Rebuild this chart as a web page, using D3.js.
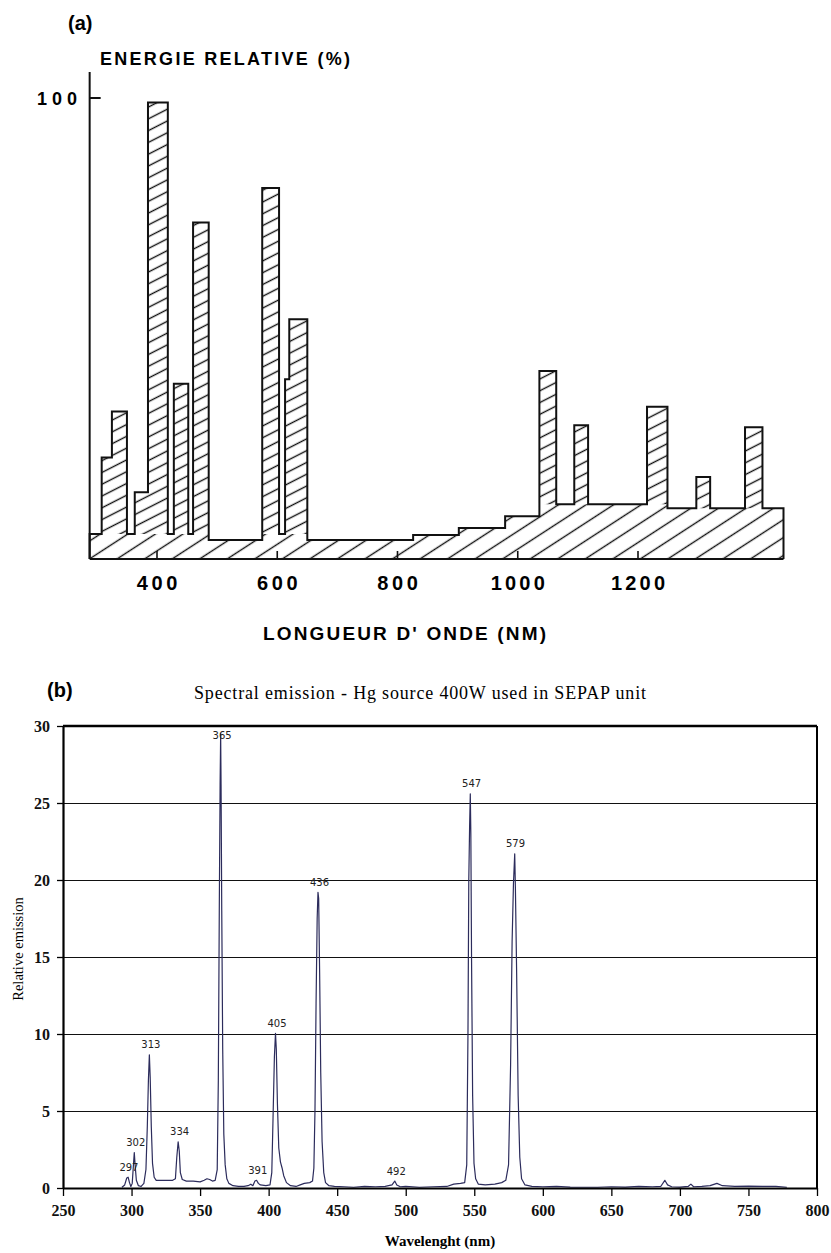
<!DOCTYPE html>
<html>
<head>
<meta charset="utf-8">
<script src="https://cdn.jsdelivr.net/npm/d3@7"></script>
<style>
  body { margin: 0; background: #fff; }
  svg { display: block; }
</style>
</head>
<body>
<script>
// ---------------- Panel (a) data : relative energy (%) vs wavelength (nm) ----------------
const contStart = [288, 486, 575, 650, 826, 902, 979, 1036, 1249];
const contEnd   = [486, 575, 650, 826, 902, 979, 1036, 1249, 1442];
const contLevel = [5.4, 4.1, 5.4, 4.1, 5.2, 6.7, 9.3, 11.9, 11.0];

const lineStart = [308, 325, 363, 385, 428, 460, 575, 613, 620, 1036, 1094, 1215, 1297, 1378];
const lineEnd   = [325, 350, 385, 418, 452, 486, 603, 620, 650, 1064, 1117, 1249, 1320, 1407];
const lineLevel = [22, 32, 14.5, 99, 38, 73, 80.5, 39, 52, 40.8, 29, 33, 17.8, 28.6];

const aTicks = [400, 600, 800, 1000, 1200];
const aYTicks = [100];

// ---------------- Panel (b) data : Hg source 400W spectral emission ----------------
const specNm = [293,295,296.5,297.5,298.5,299.5,300.5,301.3,302,302.6,303.5,305,307,309,310.5,311.5,312.3,313,313.6,314.4,315.3,316.5,318,322,326,330,332,333,334,334.8,335.6,337,340,345,350,353,355,357,359,361,362.5,363.3,364,364.6,365,365.3,365.8,366.5,367.3,368.3,369.5,371,374,378,382,385,387,388.5,390,391.2,392.5,394,398,401,402.3,403.2,404.2,405,405.6,406.4,407.4,408.6,409.8,411,413,416,420,423,426,430,432,433,433.8,434.6,435.4,436,436.5,437.2,438,439,440.2,441.5,444,448,455,462,470,478,485,490,492,493.5,496,500,510,520,530,535,540,543,544.5,545.4,546,546.6,547.1,547.5,548,548.8,549.8,551,553,558,565,570,573,575,576.5,577.6,578.6,579.5,580,580.9,582,583.2,584.5,587,592,600,610,620,630,640,650,660,670,680,686,689,691,694,700,706,708,710,716,722,727,731,740,750,760,770,778];
const specVal = [0.05,0.2,0.65,0.7,0.35,0.1,0.3,1.4,2.3,1.5,0.5,0.15,0.1,0.3,1.2,4.0,7.0,8.65,7.2,4.0,1.6,0.7,0.5,0.5,0.5,0.5,0.6,2.0,3.0,2.4,1.0,0.55,0.45,0.45,0.4,0.5,0.6,0.55,0.45,0.5,1.2,7.0,18,26.2,29.5,26.2,18,9.0,3.5,1.5,0.6,0.3,0.15,0.1,0.1,0.15,0.25,0.15,0.45,0.5,0.3,0.2,0.15,0.2,1.0,4.5,8.5,10.05,9.0,5.5,2.6,1.7,1.3,0.8,0.35,0.15,0.1,0.2,0.3,0.35,0.45,1.3,5,12,17.5,19.2,18.8,14,7.5,3,1.0,0.35,0.15,0.1,0.08,0.05,0.1,0.08,0.1,0.2,0.45,0.2,0.08,0.1,0.05,0.08,0.1,0.25,0.3,0.35,1.5,10,20,23.5,25.6,23,15,6,1.6,0.6,0.25,0.2,0.25,0.35,0.5,1.5,8,16,19.8,21.7,19.5,14,6,2,0.6,0.2,0.1,0.08,0.1,0.06,0.05,0.05,0.08,0.06,0.1,0.08,0.1,0.5,0.2,0.08,0.06,0.1,0.25,0.08,0.1,0.15,0.3,0.15,0.1,0.12,0.1,0.1,0.05];

const peakNm  = [297, 302, 313, 334, 365, 391, 405, 436, 492, 547, 579];
const peakVal = [0.7, 2.3, 8.65, 3.0, 29.5, 0.5, 10.05, 19.2, 0.45, 25.6, 21.7];

const bYTicks = [0, 5, 10, 15, 20, 25, 30];
const bXTicks = [250, 300, 350, 400, 450, 500, 550, 600, 650, 700, 750, 800];
const bGrid = [5, 10, 15, 20, 25];

// ---------------------------------------------------------------------------
const W = 831, H = 1253;
const svg = d3.select("body").append("svg").attr("width", W).attr("height", H);
const defs = svg.append("defs");

function hatch(id, size, angle, sw) {
  const p = defs.append("pattern").attr("id", id)
    .attr("patternUnits", "userSpaceOnUse")
    .attr("width", 20).attr("height", size)
    .attr("patternTransform", `rotate(${angle})`);
  p.append("rect").attr("width", 20).attr("height", size).attr("fill", "#fff");
  p.append("line").attr("x1", 0).attr("x2", 20).attr("y1", size / 2).attr("y2", size / 2)
    .attr("stroke", "#111").attr("stroke-width", sw);
}
hatch("fine", 10.5, -27, 1.4);
hatch("coarse", 15, -33, 1.4);

// ---------------- Panel (a) ----------------
const sansA = "'Liberation Sans', Arial, sans-serif";
const xA = d3.scaleLinear().domain([400, 1200]).range([157, 638]);
const yA = d3.scaleLinear().domain([0, 100]).range([559, 98]);
const gA = svg.append("g");

function levelAt(w, starts, ends, levels) {
  let v = 0;
  for (let i = 0; i < starts.length; i++) if (w > starts[i] && w < ends[i]) v = Math.max(v, levels[i]);
  return v;
}
const breaks = Array.from(new Set([...contStart, ...contEnd, ...lineStart, ...lineEnd])).sort((a, b) => a - b);
const wMin = breaks[0], wMax = breaks[breaks.length - 1];
const env = [{ w: wMin, v: 0 }], cont = [{ w: wMin, v: 0 }];
for (let i = 0; i < breaks.length - 1; i++) {
  const m = (breaks[i] + breaks[i + 1]) / 2;
  const c = levelAt(m, contStart, contEnd, contLevel);
  const l = levelAt(m, lineStart, lineEnd, lineLevel);
  env.push({ w: breaks[i], v: Math.max(c, l) });
  cont.push({ w: breaks[i], v: c });
}
env.push({ w: wMax, v: 0 });
cont.push({ w: wMax, v: 0 });

const areaA = d3.area().curve(d3.curveStepAfter).x(d => xA(d.w)).y0(yA(0)).y1(d => yA(d.v));
const lineA = d3.line().curve(d3.curveStepAfter).x(d => xA(d.w)).y(d => yA(d.v));

gA.append("path").datum(env).attr("d", areaA).attr("fill", "url(#fine)");
gA.append("path").datum(cont).attr("d", areaA).attr("fill", "url(#coarse)");
gA.append("path").datum(env).attr("d", lineA).attr("fill", "none")
  .attr("stroke", "#111").attr("stroke-width", 2).attr("stroke-linejoin", "miter");

// axes (a)
gA.append("line").attr("x1", xA(wMin)).attr("x2", xA(wMin))
  .attr("y1", yA(0)).attr("y2", yA(100) - 26).attr("stroke", "#111").attr("stroke-width", 2);
gA.append("line").attr("x1", xA(wMin)).attr("x2", xA(wMax))
  .attr("y1", yA(0)).attr("y2", yA(0)).attr("stroke", "#111").attr("stroke-width", 2);
aYTicks.forEach(t => {
  gA.append("line").attr("x1", xA(wMin)).attr("x2", xA(wMin) + 11)
    .attr("y1", yA(t)).attr("y2", yA(t)).attr("stroke", "#111").attr("stroke-width", 2);
  gA.append("text").attr("x", 57).attr("y", yA(t) + 7).attr("text-anchor", "middle")
    .attr("font-family", sansA).attr("font-weight", "bold").attr("font-size", 18)
    .attr("textLength", 40).text(t);
});
aTicks.forEach(t => {
  gA.append("line").attr("x1", xA(t)).attr("x2", xA(t))
    .attr("y1", yA(0)).attr("y2", yA(0) - 8).attr("stroke", "#111").attr("stroke-width", 1.6);
  gA.append("text").attr("x", xA(t)).attr("y", 590).attr("text-anchor", "middle")
    .attr("font-family", sansA).attr("font-weight", "bold").attr("font-size", 20)
    .attr("textLength", String(t).length * 13.5).text(t);
});
gA.append("text").attr("x", 68).attr("y", 30).attr("font-family", sansA)
  .attr("font-weight", "bold").attr("font-size", 20).text("(a)");
gA.append("text").attr("x", 100).attr("y", 65).attr("font-family", sansA)
  .attr("font-weight", "bold").attr("font-size", 18).attr("textLength", 250).text("ENERGIE RELATIVE (%)");
gA.append("text").attr("x", 263).attr("y", 640).attr("font-family", sansA)
  .attr("font-weight", "bold").attr("font-size", 19).attr("textLength", 283).text("LONGUEUR D' ONDE (NM)");

// ---------------- Panel (b) ----------------
const serif = "'Liberation Serif', 'Times New Roman', serif";
const xB = d3.scaleLinear().domain([250, 800]).range([63, 817]);
const yB = d3.scaleLinear().domain([0, 30]).range([1188, 726]);
const gB = svg.append("g");

// gridlines
gB.append("g").attr("transform", `translate(${xB(250)},0)`)
  .call(d3.axisLeft(yB).tickValues(bGrid).tickSize(-(xB(800) - xB(250))).tickFormat(""))
  .call(g => g.select(".domain").remove())
  .call(g => g.selectAll("line").attr("stroke", "#111").attr("stroke-width", 1));

// spectrum
const lineB = d3.line().x((d, i) => xB(specNm[i])).y((d, i) => yB(specVal[i]));
gB.append("path").datum(specVal).attr("d", lineB).attr("fill", "none")
  .attr("stroke", "#2c2c5c").attr("stroke-width", 1.2).attr("stroke-linejoin", "round");

// frame
gB.append("line").attr("x1", xB(250)).attr("x2", xB(800)).attr("y1", yB(30)).attr("y2", yB(30))
  .attr("stroke", "#000").attr("stroke-width", 2.5);
gB.append("line").attr("x1", xB(800)).attr("x2", xB(800)).attr("y1", yB(30)).attr("y2", yB(0))
  .attr("stroke", "#000").attr("stroke-width", 2);

// axes
const yAxisB = gB.append("g").attr("transform", `translate(${xB(250)},0)`)
  .call(d3.axisLeft(yB).tickValues(bYTicks).tickSize(6).tickPadding(7).tickSizeOuter(0));
const xAxisB = gB.append("g").attr("transform", `translate(0,${yB(0)})`)
  .call(d3.axisBottom(xB).tickValues(bXTicks).tickSize(8).tickPadding(9).tickSizeOuter(0));
[yAxisB, xAxisB].forEach(ax => {
  ax.select(".domain").attr("stroke", "#000").attr("stroke-width", 2.2);
  ax.selectAll(".tick line").attr("stroke", "#000").attr("stroke-width", 1.3);
  ax.selectAll(".tick text").attr("fill", "#111").attr("font-family", serif)
    .attr("font-weight", "bold").attr("font-size", 16);
});

// peak labels (about 10 px above each peak, kept inside the top frame)
peakNm.forEach((nm, i) => {
  gB.append("text").attr("x", xB(nm) + 1.5)
    .attr("y", Math.max(yB(peakVal[i]) - 10, yB(30) + 9))
    .attr("dominant-baseline", "central").attr("text-anchor", "middle")
    .attr("font-family", "'DejaVu Sans', Verdana, sans-serif").attr("font-size", 10)
    .attr("fill", "#222").text(nm);
});

// titles
svg.append("text").attr("x", 47).attr("y", 697).attr("font-family", sansA)
  .attr("font-weight", "bold").attr("font-size", 20).text("(b)");
svg.append("text").attr("x", 194).attr("y", 699).attr("font-family", serif)
  .attr("font-size", 18).attr("textLength", 452).text("Spectral emission - Hg source 400W used in SEPAP unit");
svg.append("text").attr("transform", `translate(23,${(yB(0) + yB(30)) / 2 - 8}) rotate(-90)`)
  .attr("text-anchor", "middle").attr("font-family", serif).attr("font-size", 14.5)
  .text("Relative emission");
svg.append("text").attr("x", (xB(250) + xB(800)) / 2).attr("y", 1246).attr("text-anchor", "middle")
  .attr("font-family", serif).attr("font-weight", "bold").attr("font-size", 15)
  .text("Wavelenght (nm)");
</script>
</body>
</html>
